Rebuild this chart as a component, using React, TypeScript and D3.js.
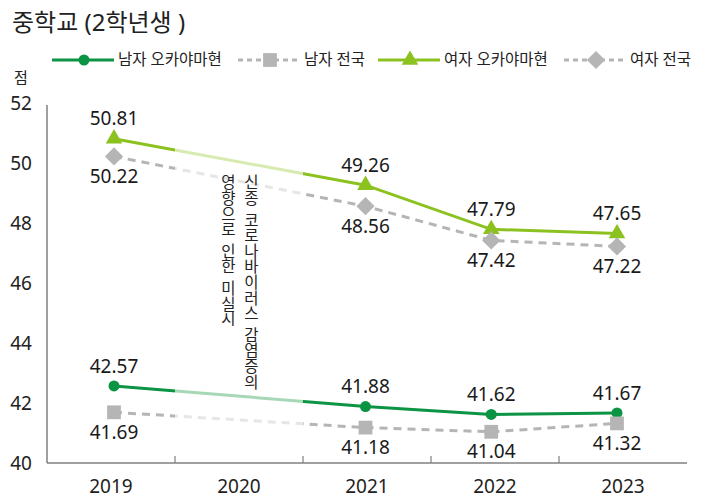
import * as d3 from 'd3';

// 중학교 2학년 체력 점수
const years = ['2019', '2020', '2021', '2022', '2023'];
const maleOkayama = [42.57, null, 41.88, 41.62, 41.67];
const maleNational = [41.69, null, 41.18, 41.04, 41.32];
const femaleOkayama = [50.81, null, 49.26, 47.79, 47.65];
const femaleNational = [50.22, null, 48.56, 47.42, 47.22];
const yTicks = [40, 42, 44, 46, 48, 50, 52];
const legendNames = ['남자 오카야마현', '남자 전국', '여자 오카야마현', '여자 전국'];
const noteLines = ['신종 코로나바이러스 감염증의', '영향으로 인한 미실시'];

const width = 709;
const height = 497;
const margin = { top: 103, right: 22, bottom: 34, left: 47 };
const font = '"Noto Sans", "Noto Sans CJK KR", sans-serif';

const series = [
  { key: 'mo', name: legendNames[0], values: maleOkayama, color: '#0b9444', light: '#a6d8b6', dashed: false, symbol: 'circle', above: true },
  { key: 'mn', name: legendNames[1], values: maleNational, color: '#b5b5b5', light: '#e6e6e6', dashed: true, symbol: 'square', above: false },
  { key: 'fo', name: legendNames[2], values: femaleOkayama, color: '#8cc21f', light: '#d7ebb0', dashed: false, symbol: 'triangle', above: true },
  { key: 'fn', name: legendNames[3], values: femaleNational, color: '#b5b5b5', light: '#e6e6e6', dashed: true, symbol: 'diamond', above: false },
];

const symbolPath = (type: string) => {
  if (type === 'circle') return d3.symbol(d3.symbolCircle, 95)();
  if (type === 'square') return d3.symbol(d3.symbolSquare, 190)();
  if (type === 'triangle') return d3.symbol(d3.symbolTriangle, 120)();
  return d3.symbol(d3.symbolSquare, 165)();
};

const Marker = ({ type, x, y, fill }: { type: string; x: number; y: number; fill: string }) => (
  <path
    d={symbolPath(type) || ''}
    fill={fill}
    transform={`translate(${x},${y})${type === 'diamond' ? ' rotate(45)' : ''}`}
  />
);

// vertical note, one glyph per text so the pitch is under control
const VerticalText = ({ text, x, top }: { text: string; x: number; top: number }) => {
  const pitch = 15.6;
  const space = 6;
  let pos = top;
  const glyphs: { ch: string; y: number }[] = [];
  for (const ch of text) {
    if (ch === ' ') {
      pos += space;
      continue;
    }
    glyphs.push({ ch, y: pos });
    pos += pitch;
  }
  return (
    <g fontFamily='"Noto Sans CJK KR", sans-serif' fontSize={15.5} fill="#222" textAnchor="middle">
      {glyphs.map((g, i) => (
        <text key={i} x={x} y={g.y + 13.4}>{g.ch}</text>
      ))}
    </g>
  );
};

export default function App() {
  const x = d3.scaleBand().domain(years).range([margin.left, width - margin.right]).padding(0);
  const xp = d3.scalePoint().domain(years).range([114, 617]);
  const y = d3.scaleLinear().domain([40, 52]).range([height - margin.bottom, margin.top]);
  const cx = (yr: string) => (x(yr) || 0) + x.bandwidth() / 2;

  // 2020 band gets the faded colour
  const gapStart = x('2020') || 0;
  const gapEnd = gapStart + x.bandwidth();
  const [r0, r1] = x.range();
  const o1 = (gapStart - r0) / (r1 - r0);
  const o2 = (gapEnd - r0) / (r1 - r0);

  const line = d3
    .line<{ yr: string; v: number }>()
    .x((d) => xp(d.yr) || 0)
    .y((d) => y(d.v));

  const bottom = y(40);
  const legendX = [52, 238, 378, 564];
  const legendY = 60;

  return (
    <svg width={width} height={height} style={{ position: 'absolute', left: 0, top: 0 }} fontFamily={font}>
      <defs>
        {series.map((s) => (
          <linearGradient key={s.key} id={`g-${s.key}`} gradientUnits="userSpaceOnUse" x1={r0} x2={r1} y1={0} y2={0}>
            <stop offset={o1} stopColor={s.color} />
            <stop offset={o1} stopColor={s.light} />
            <stop offset={o2} stopColor={s.light} />
            <stop offset={o2} stopColor={s.color} />
          </linearGradient>
        ))}
      </defs>

      <text x={12} y={31} fontSize={24} fill="#222">중학교 (2학년생 )</text>

      {/* legend */}
      {series.map((s, i) => {
        const lx = legendX[i];
        return (
          <g key={s.key}>
            <line
              x1={lx}
              x2={lx + 62}
              y1={legendY}
              y2={legendY}
              stroke={s.color}
              strokeWidth={3}
              strokeDasharray={s.dashed ? '5,4' : undefined}
            />
            <Marker type={s.symbol} x={lx + 32} y={legendY} fill={s.color} />
            <text x={lx + 66} y={legendY} dy="0.35em" fontSize={15.5} fill="#222">{s.name}</text>
          </g>
        );
      })}

      <text x={14} y={78} dy="0.35em" fontSize={15} fill="#222">점</text>

      {/* y axis */}
      {yTicks.map((t) => (
        <text key={t} x={32} y={y(t)} dy="0.35em" textAnchor="end" fontSize={19} fill="#222">{t}</text>
      ))}
      <line x1={margin.left} x2={margin.left} y1={y(52) + 2} y2={bottom} stroke="#808080" strokeWidth={1.5} />

      {/* x axis */}
      <line x1={margin.left} x2={r1} y1={bottom} y2={bottom} stroke="#808080" strokeWidth={1.5} />
      {years.slice(1).map((yr) => (
        <line key={yr} x1={x(yr)} x2={x(yr)} y1={bottom} y2={bottom - 7} stroke="#808080" strokeWidth={1.2} />
      ))}
      {years.map((yr) => (
        <text key={yr} x={cx(yr)} y={486} dy="0.35em" textAnchor="middle" fontSize={19} fill="#222">{yr}</text>
      ))}

      {/* lines */}
      {series.map((s) => {
        const pts = years
          .map((yr, i) => ({ yr, v: s.values[i] as number }))
          .filter((d) => d.v != null);
        return (
          <path
            key={s.key}
            d={line(pts) || ''}
            fill="none"
            stroke={`url(#g-${s.key})`}
            strokeWidth={3}
            strokeDasharray={s.dashed ? '8,6' : undefined}
          />
        );
      })}

      {/* markers + labels */}
      {series.map((s) =>
        years.map((yr, i) => {
          const v = s.values[i];
          if (v == null) return null;
          const px = xp(yr) || 0;
          const py = y(v);
          return (
            <g key={s.key + yr}>
              <Marker type={s.symbol} x={px} y={py} fill={s.color} />
              <text
                x={px}
                y={py + (s.above ? -20 : 20)}
                dy="0.35em"
                textAnchor="middle"
                fontSize={19}
                fill="#1a1a1a"
              >
                {v.toFixed(2)}
              </text>
            </g>
          );
        })
      )}

      {/* note */}
      {noteLines.map((t, i) => (
        <VerticalText key={t} text={t} x={251.5 - i * 23} top={175} />
      ))}
    </svg>
  );
}
